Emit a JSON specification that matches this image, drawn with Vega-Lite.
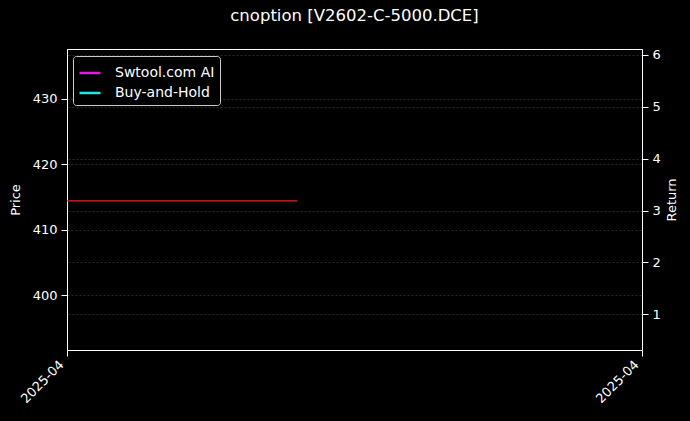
{
  "$schema": "https://vega.github.io/schema/vega-lite/v6.json",
  "width": 575,
  "height": 301,
  "autosize": {"type": "none"},
  "padding": {"left": 67, "top": 49, "right": 48, "bottom": 71},
  "background": "#000000",
  "title": {
    "text": "cnoption [V2602-C-5000.DCE]",
    "color": "#ffffff",
    "font": "DejaVu Sans",
    "fontSize": 16.5,
    "fontWeight": "normal",
    "anchor": "middle",
    "offset": 24
  },
  "datasets": {
    "price": [
      {"date": "2025-04-01", "price": 414.4},
      {"date": "2025-04-05", "price": 414.4}
    ],
    "returns": [
      {"date": "2025-04-01", "series": "Swtool.com AI", "ret": null},
      {"date": "2025-04-01", "series": "Buy-and-Hold", "ret": null}
    ]
  },
  "encoding": {
    "x": {
      "field": "date",
      "type": "temporal",
      "scale": {"domain": ["2025-04-01", "2025-04-11"]},
      "axis": {
        "title": null,
        "values": ["2025-04-01", "2025-04-11"],
        "format": "%Y-%m",
        "labelAngle": -45,
        "labelAlign": "right",
        "labelBaseline": "top",
        "labelOffset": -10,
        "labelPadding": 2,
        "grid": false
      }
    }
  },
  "layer": [
    {
      "data": {"name": "price"},
      "mark": {"type": "line", "color": "#ff1a1a", "strokeWidth": 1.2},
      "encoding": {
        "y": {
          "field": "price",
          "type": "quantitative",
          "scale": {"domain": [391.65, 437.6], "nice": false, "zero": false},
          "axis": {"title": "Price", "values": [400, 410, 420, 430], "orient": "left", "grid": true, "titlePadding": 10}
        }
      }
    },
    {
      "data": {"name": "returns"},
      "mark": {"type": "line", "strokeWidth": 2},
      "encoding": {
        "y": {
          "field": "ret",
          "type": "quantitative",
          "scale": {"domain": [0.31, 6.115], "nice": false, "zero": false},
          "axis": {"title": "Return", "values": [1, 2, 3, 4, 5, 6], "orient": "right", "grid": true, "titleAngle": -90, "titleBaseline": "top", "titlePadding": 5}
        },
        "color": {
          "field": "series",
          "type": "nominal",
          "scale": {"domain": ["Swtool.com AI", "Buy-and-Hold"], "range": ["#e815e8", "#1fe8e8"]},
          "legend": {
            "title": null,
            "orient": "none",
            "legendX": 6,
            "legendY": 7,
            "symbolType": "stroke",
            "symbolStrokeWidth": 2.5,
            "symbolSize": 441,
            "labelColor": "#ffffff",
            "labelFont": "DejaVu Sans",
            "labelFontSize": 14,
            "labelOffset": 13,
            "rowPadding": 1,
            "padding": 5,
            "strokeColor": "#cccccc",
            "fillColor": "#000000",
            "cornerRadius": 3
          }
        }
      }
    }
  ],
  "resolve": {"scale": {"y": "independent"}},
  "config": {
    "view": {"stroke": "#ffffff", "strokeWidth": 1},
    "axis": {
      "domainColor": "#ffffff",
      "tickColor": "#ffffff",
      "tickSize": 6,
      "labelColor": "#ffffff",
      "titleColor": "#ffffff",
      "labelFont": "DejaVu Sans",
      "titleFont": "DejaVu Sans",
      "labelFontSize": 13,
      "titleFontSize": 13,
      "titleFontWeight": "normal",
      "gridColor": "#4a4a4a",
      "gridDash": [2, 2],
      "gridWidth": 0.6,
      "labelPadding": 4
    }
  }
}
